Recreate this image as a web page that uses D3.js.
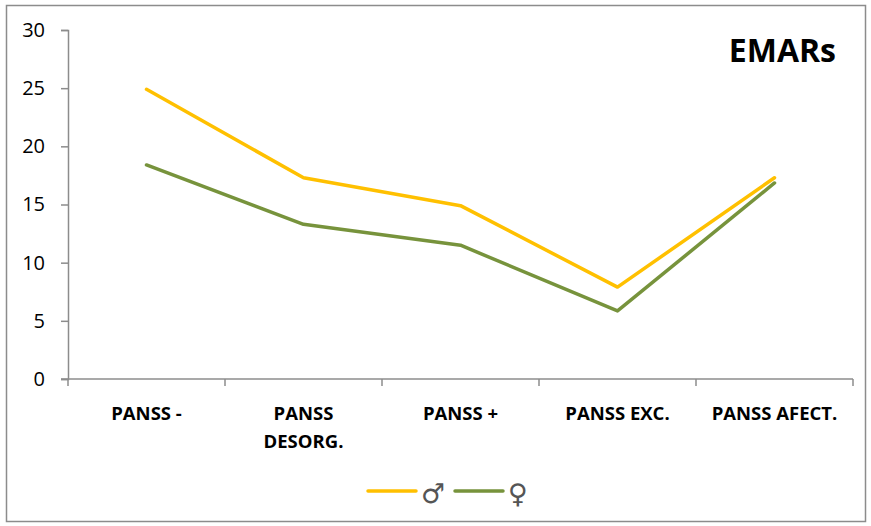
<!DOCTYPE html>
<html>
<head>
<meta charset="utf-8">
<script src="https://cdn.jsdelivr.net/npm/d3@7"></script>
<style>
body { margin: 0; background: #fff; }
text { font-family: "Open Sans", "Liberation Sans", sans-serif; }
</style>
</head>
<body>
<script>
var width = 871, height = 526;

var categories = [["PANSS -"], ["PANSS", "DESORG."], ["PANSS +"], ["PANSS EXC."], ["PANSS AFECT."]];
var male = [24.9, 17.3, 14.9, 7.9, 17.3];
var female = [18.4, 13.3, 11.5, 5.85, 16.85];
var yTicks = [0, 5, 10, 15, 20, 25, 30];

var svg = d3.select("body").append("svg")
  .attr("width", width)
  .attr("height", height);

svg.append("rect")
  .attr("x", 6.5).attr("y", 5.5)
  .attr("width", 859).attr("height", 516)
  .attr("fill", "#fff")
  .attr("stroke", "#8c8c8c")
  .attr("stroke-width", 1.5);

var x = d3.scaleBand()
  .domain(d3.range(categories.length))
  .range([68, 853]);

var y = d3.scaleLinear()
  .domain([0, 30])
  .range([379, 30]);

// y axis
var yAxis = svg.append("g")
  .attr("transform", "translate(68,0)")
  .call(d3.axisLeft(y).tickValues(yTicks).tickSize(7).tickPadding(16));
yAxis.select(".domain").attr("stroke", "#8c8c8c").attr("stroke-width", 1.5);
yAxis.selectAll(".tick line").attr("stroke", "#8c8c8c").attr("stroke-width", 1.5);
yAxis.selectAll(".tick text")
  .attr("fill", "#000")
  .style("font-size", "20px")
  .style("font-family", "'Open Sans', sans-serif");

// x axis line and ticks at band edges
var xg = svg.append("g");
xg.append("line")
  .attr("x1", 61).attr("x2", 853)
  .attr("y1", y(0)).attr("y2", y(0))
  .attr("stroke", "#8c8c8c").attr("stroke-width", 1.5);
xg.selectAll("line.tk")
  .data(d3.range(categories.length + 1))
  .join("line")
  .attr("class", "tk")
  .attr("x1", function(d) { return d < categories.length ? x(d) : x.range()[1]; })
  .attr("x2", function(d) { return d < categories.length ? x(d) : x.range()[1]; })
  .attr("y1", y(0)).attr("y2", y(0) + 7)
  .attr("stroke", "#8c8c8c").attr("stroke-width", 1.5);

var labels = xg.selectAll("text.cat")
  .data(categories)
  .join("text")
  .attr("class", "cat")
  .attr("text-anchor", "middle")
  .attr("font-weight", "bold")
  .style("font-size", "18.5px")
  .attr("fill", "#000");
labels.each(function(d, i) {
  var t = d3.select(this);
  d.forEach(function(line, j) {
    t.append("tspan")
      .attr("x", x(i) + x.bandwidth() / 2)
      .attr("y", 420 + j * 28)
      .text(line);
  });
});

var line = d3.line()
  .x(function(d, i) { return x(i) + x.bandwidth() / 2; })
  .y(function(d) { return y(d); });

svg.append("path")
  .datum(female)
  .attr("d", line)
  .attr("fill", "none")
  .attr("stroke", "#77933C")
  .attr("stroke-width", 3.5)
  .attr("stroke-linecap", "round")
  .attr("stroke-linejoin", "round");

svg.append("path")
  .datum(male)
  .attr("d", line)
  .attr("fill", "none")
  .attr("stroke", "#FFC000")
  .attr("stroke-width", 3.5)
  .attr("stroke-linecap", "round")
  .attr("stroke-linejoin", "round");

svg.append("text")
  .attr("x", 836).attr("y", 62)
  .attr("text-anchor", "end")
  .attr("font-weight", "bold")
  .style("font-size", "32px")
  .attr("fill", "#000")
  .text("EMARs");

// legend
var legend = [{ sym: "\u2642", color: "#FFC000", x: 368 }, { sym: "\u2640", color: "#77933C", x: 455 }];
var lg = svg.selectAll("g.leg").data(legend).join("g").attr("class", "leg");
lg.append("line")
  .attr("x1", function(d) { return d.x; })
  .attr("x2", function(d) { return d.x + 48; })
  .attr("y1", 491).attr("y2", 491)
  .attr("stroke", function(d) { return d.color; })
  .attr("stroke-width", 3.5)
  .attr("stroke-linecap", "round");
lg.append("text")
  .attr("x", function(d) { return d.x + 53; })
  .attr("y", 503)
  .style("font-size", "27px")
  .style("font-family", "'DejaVu Sans', sans-serif")
  .attr("fill", "#555")
  .text(function(d) { return d.sym; });
</script>
</body>
</html>
